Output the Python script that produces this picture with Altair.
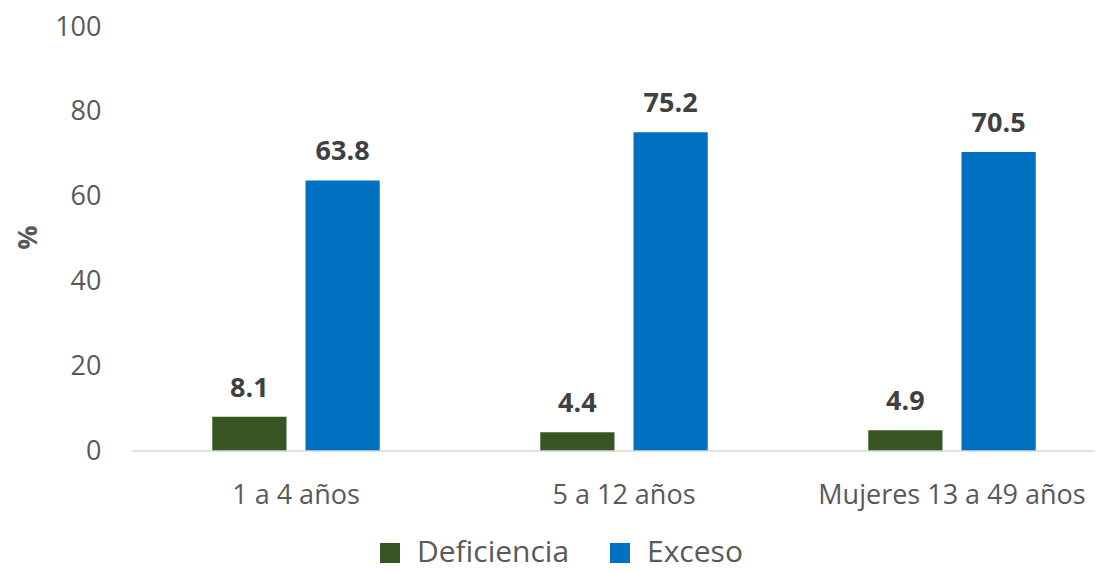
import altair as alt
import pandas as pd

groups = ["1 a 4 años", "5 a 12 años", "Mujeres 13 a 49 años"]
series = ["Deficiencia", "Exceso"]
deficiencia = [8.1, 4.4, 4.9]
exceso = [63.8, 75.2, 70.5]
colors = ["#375623", "#0070C0"]
y_ticks = [0, 20, 40, 60, 80, 100]

rows = []
for g, d, e in zip(groups, deficiencia, exceso):
    rows.append({"grupo": g, "serie": series[0], "valor": d})
    rows.append({"grupo": g, "serie": series[1], "valor": e})
df = pd.DataFrame(rows)

W = 963
H = 424
FONT = "Open Sans"
GRAY = "#595959"

x = alt.X(
    "grupo:N",
    sort=groups,
    scale=alt.Scale(paddingInner=0, paddingOuter=0, range=[0, 984]),
    axis=alt.Axis(
        title=None, labelAngle=0, domain=False, ticks=False,
        labelFontSize=27, labelColor=GRAY, labelFont=FONT,
        labelPadding=31, labelLimit=500,
    ),
)
xo = alt.XOffset("serie:N", sort=series,
                 scale=alt.Scale(paddingInner=0.204, paddingOuter=0.861))
y = alt.Y(
    "valor:Q",
    scale=alt.Scale(domain=[0, 100]),
    axis=alt.Axis(
        values=y_ticks, title="%", grid=False, domain=False, ticks=False,
        labelFontSize=27, labelColor=GRAY, labelFont=FONT, labelPadding=31,
        titleX=-104, titleY=210, titleAngle=270, titleAlign="center",
        titleBaseline="middle", titleFontSize=27, titleFont=FONT,
        titleFontWeight="bold", titleColor=GRAY,
    ),
)
color = alt.Color(
    "serie:N",
    sort=series,
    scale=alt.Scale(domain=series, range=colors),
    legend=alt.Legend(
        title=None, orient="none", legendX=243, legendY=511,
        direction="horizontal", symbolType="square", symbolSize=400,
        symbolStrokeWidth=0, labelFontSize=30, labelFont=FONT,
        labelColor=GRAY, labelOffset=12, columnPadding=35,
    ),
)

bars = alt.Chart(df).mark_bar().encode(x=x, xOffset=xo, y=y, color=color)
labels = alt.Chart(df).mark_text(
    dy=-28, baseline="middle", fontSize=27, fontWeight="bold",
    font=FONT, color="#404040",
).encode(x=x, xOffset=xo, y=y, text=alt.Text("valor:Q", format=".1f"))
base_line = alt.Chart(alt.Data(values=[{}])).mark_rule(
    color="#D9D9D9", strokeWidth=1.5
).encode(x=alt.value(0), x2=alt.value(W), y=alt.value(H))

chart = alt.layer(bars, base_line, labels).properties(
    width=W, height=H,
    autosize=alt.AutoSizeParams(type="none"),
    padding={"left": 124, "top": 19, "right": 0, "bottom": 125},
).configure_view(stroke=None)

chart.save("out.html", embed_options={"renderer": "svg", "actions": False})
